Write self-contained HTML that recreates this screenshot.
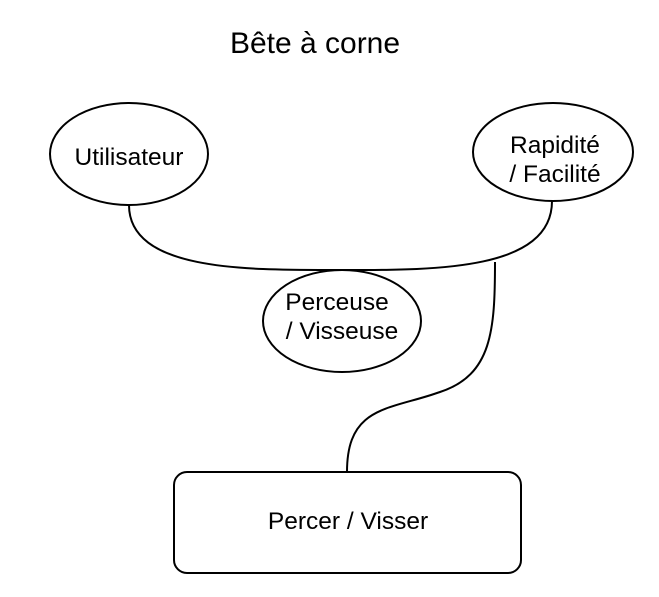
<!DOCTYPE html>
<html><head><meta charset="utf-8"><style>
html,body{margin:0;padding:0;background:#fff;}
svg{display:block;}
text{font-family:"Liberation Sans",sans-serif;fill:#000;}
</style></head><body>
<svg width="659" height="597" viewBox="0 0 659 597" xmlns="http://www.w3.org/2000/svg">
<text x="315" y="53" font-size="30" text-anchor="middle" fill="#222">Bête à corne</text>
<g fill="none" stroke="#000" stroke-width="2">
<path d="M129 205 C129 272, 250 270, 340 270 C430 270, 552 272, 552 201"/>
<path d="M495 262 C495 330, 492 375, 440 392 C390 410, 347 405, 347 472"/>
<ellipse cx="129" cy="154" rx="79" ry="51" fill="#fff"/>
<ellipse cx="553" cy="152" rx="80" ry="49" fill="#fff"/>
<ellipse cx="342" cy="321" rx="79" ry="51" fill="#fff"/>
<rect x="174" y="472" width="347" height="101" rx="13" fill="#fff"/>
</g>
<text x="129" y="165" font-size="24.5" text-anchor="middle">Utilisateur</text>
<text x="555" y="153" font-size="24.5" text-anchor="middle">Rapidité</text>
<text x="555" y="182" font-size="24.5" text-anchor="middle">/ Facilité</text>
<text x="337" y="310" font-size="24.5" text-anchor="middle">Perceuse</text>
<text x="342" y="339" font-size="24.5" text-anchor="middle">/ Visseuse</text>
<text x="348" y="529" font-size="24.5" text-anchor="middle">Percer / Visser</text>
</svg>
</body></html>
